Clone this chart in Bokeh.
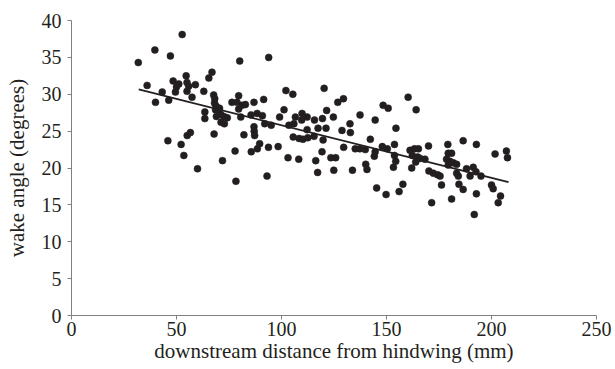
from bokeh.plotting import figure
from bokeh.models import Range1d, FixedTicker
from bokeh.embed import file_html
from bokeh.resources import INLINE

# downstream distance from hindwing (mm)
distance = [
    31.8, 36.0, 39.7, 40.0, 43.2, 45.9, 46.3, 47.1, 48.4, 49.5, 50.0, 51.1, 52.2, 52.7, 53.5,
    54.6, 55.0, 55.0, 55.1, 55.8, 56.6, 57.4, 59.0, 60.0, 63.0, 63.5, 63.5, 65.4, 66.9, 67.7,
    67.9, 68.1, 68.2, 68.8, 68.6, 70.5, 69.0, 71.0, 72.5, 74.2, 71.2, 72.8, 71.9, 76.4, 77.9,
    78.3, 78.8, 79.6, 79.6, 80.1, 80.6, 81.2, 82.8, 82.1, 85.5, 88.4, 90.9, 85.6, 86.9, 86.9,
    87.0, 87.2, 88.5, 89.6,
    91.5, 93.9, 102.1, 105.4, 120.3, 126.8, 129.5, 148.4, 150.8, 101.2, 121.5, 109.8, 99.1,
    106.6, 112.2, 109.6, 115.7, 119.5, 124.7, 137.4, 144.6, 132.6, 92.0, 95.1, 103.5, 105.9,
    112.2, 117.4, 121.2, 128.8, 132.8, 105.6, 108.4, 110.2, 112.5, 115.5, 119.8, 142.3, 93.8,
    98.4, 103.1, 108.2, 119.3, 116.3, 123.5, 125.8, 129.6, 135.1, 137.3, 139.9, 144.6, 144.2,
    148.0, 150.4, 117.2, 124.9, 133.8, 140.1, 140.7, 93.1, 145.3, 149.8,
    160.3, 164.1, 154.5, 153.8, 153.8, 154.4, 153.3, 161.2, 163.3, 165.2, 162.3, 164.8, 166.0,
    163.9, 168.3, 162.0, 170.0, 179.2, 186.5, 192.8, 201.7, 207.1, 207.6, 179.4, 181.0, 178.6,
    180.2, 181.8, 183.4, 179.4, 188.1, 191.3, 192.6, 189.8, 195.0, 170.2, 172.3, 174.3, 175.5,
    183.4, 184.2, 176.2, 184.5, 186.5, 200.0, 200.8, 157.8, 156.0, 171.5, 181.0, 192.8, 204.3,
    203.2, 191.8,
]
# wake angle (degrees)
angle = [
    34.3, 31.2, 36.0, 28.9, 30.3, 23.7, 29.2, 35.2, 31.8, 30.3, 31.0, 31.4, 23.2, 38.1, 21.7,
    32.5, 31.6, 30.4, 24.4, 31.1, 24.8, 29.6, 31.3, 19.9, 30.4, 27.6, 26.7, 32.2, 33.0, 29.9,
    24.6, 28.8, 29.4, 28.4, 27.9, 28.1, 27.0, 27.3, 27.0, 26.8, 26.2, 26.0, 21.0, 28.9, 22.3,
    18.2, 28.9, 29.8, 28.0, 34.5, 26.9, 28.5, 28.6, 24.5, 27.2, 27.4, 27.1, 22.2, 28.9, 25.6,
    25.0, 24.4, 22.6, 23.3,
    29.3, 35.0, 30.5, 30.0, 30.8, 28.9, 29.4, 28.5, 28.1, 27.9, 27.8, 27.4, 26.9,
    26.9, 26.9, 26.5, 26.5, 26.7, 26.9, 27.2, 26.5, 26.0, 26.0, 25.8, 25.8, 26.0,
    25.2, 25.4, 25.4, 25.1, 24.8, 24.2, 24.0, 23.9, 24.1, 24.3, 23.8, 23.9, 22.8,
    22.9, 21.4, 21.2, 22.2, 21.0, 21.4, 21.4, 22.8, 22.6, 22.6, 22.5, 22.2, 21.6,
    22.9, 22.6, 19.4, 19.7, 19.7, 20.5, 19.8, 18.9, 17.3, 16.4,
    29.6, 27.9, 25.4, 23.2, 21.7, 20.9, 20.1, 22.4, 22.6, 22.6, 21.7, 21.5, 21.3,
    20.8, 21.2, 20.0, 23.0, 23.2, 23.7, 23.2, 21.9, 22.3, 21.4, 22.0, 22.0, 21.2,
    20.9, 20.7, 20.5, 20.4, 19.9, 20.1, 19.5, 18.9, 18.9, 19.6, 19.3, 19.1, 18.9,
    19.3, 18.9, 17.7, 17.8, 17.1, 17.7, 17.2, 17.8, 16.8, 15.3, 15.8, 16.5, 16.2,
    15.3, 13.7,
]
# regression line end points
trend_x = [32.0, 208.1]
trend_y = [30.65, 18.1]

x_ticks = [0, 50, 100, 150, 200, 250]
y_ticks = [0, 5, 10, 15, 20, 25, 30, 35, 40]

FONT = "Liberation Serif"
INK = "#231f20"

p = figure(width=615, height=369, output_backend="svg", toolbar_location=None,
           x_range=Range1d(0, 250), y_range=Range1d(0, 40),
           min_border_left=71, min_border_right=19, min_border_top=20, min_border_bottom=54)
p.outline_line_color = None
p.xgrid.visible = False
p.ygrid.visible = False
p.background_fill_color = "white"
p.border_fill_color = "white"

p.scatter(distance, angle, size=7, fill_color=INK, line_color=INK, line_width=0.5)
p.line(trend_x, trend_y, line_color=INK, line_width=1.8)

p.xaxis.ticker = FixedTicker(ticks=x_ticks)
p.yaxis.ticker = FixedTicker(ticks=y_ticks)
for ax in (p.xaxis[0], p.yaxis[0]):
    ax.axis_line_color = "#808080"
    ax.axis_line_width = 1
    ax.major_tick_line_color = "#808080"
    ax.major_tick_out = 4
    ax.major_tick_in = 0
    ax.minor_tick_line_color = None
    ax.major_label_text_font = FONT
    ax.major_label_text_font_size = "20px"
    ax.major_label_text_color = INK
    ax.axis_label_text_font = FONT
    ax.axis_label_text_font_size = "21px"
    ax.axis_label_text_font_style = "normal"
    ax.axis_label_text_color = INK

p.xaxis.axis_label = "downstream distance from hindwing (mm)"
p.yaxis.axis_label = "wake angle (degrees)"
p.xaxis.major_label_standoff = 2
p.yaxis.major_label_standoff = 6
p.xaxis.axis_label_standoff = 0
p.yaxis.axis_label_standoff = 10

open("out.html", "w").write(file_html(p, INLINE))
